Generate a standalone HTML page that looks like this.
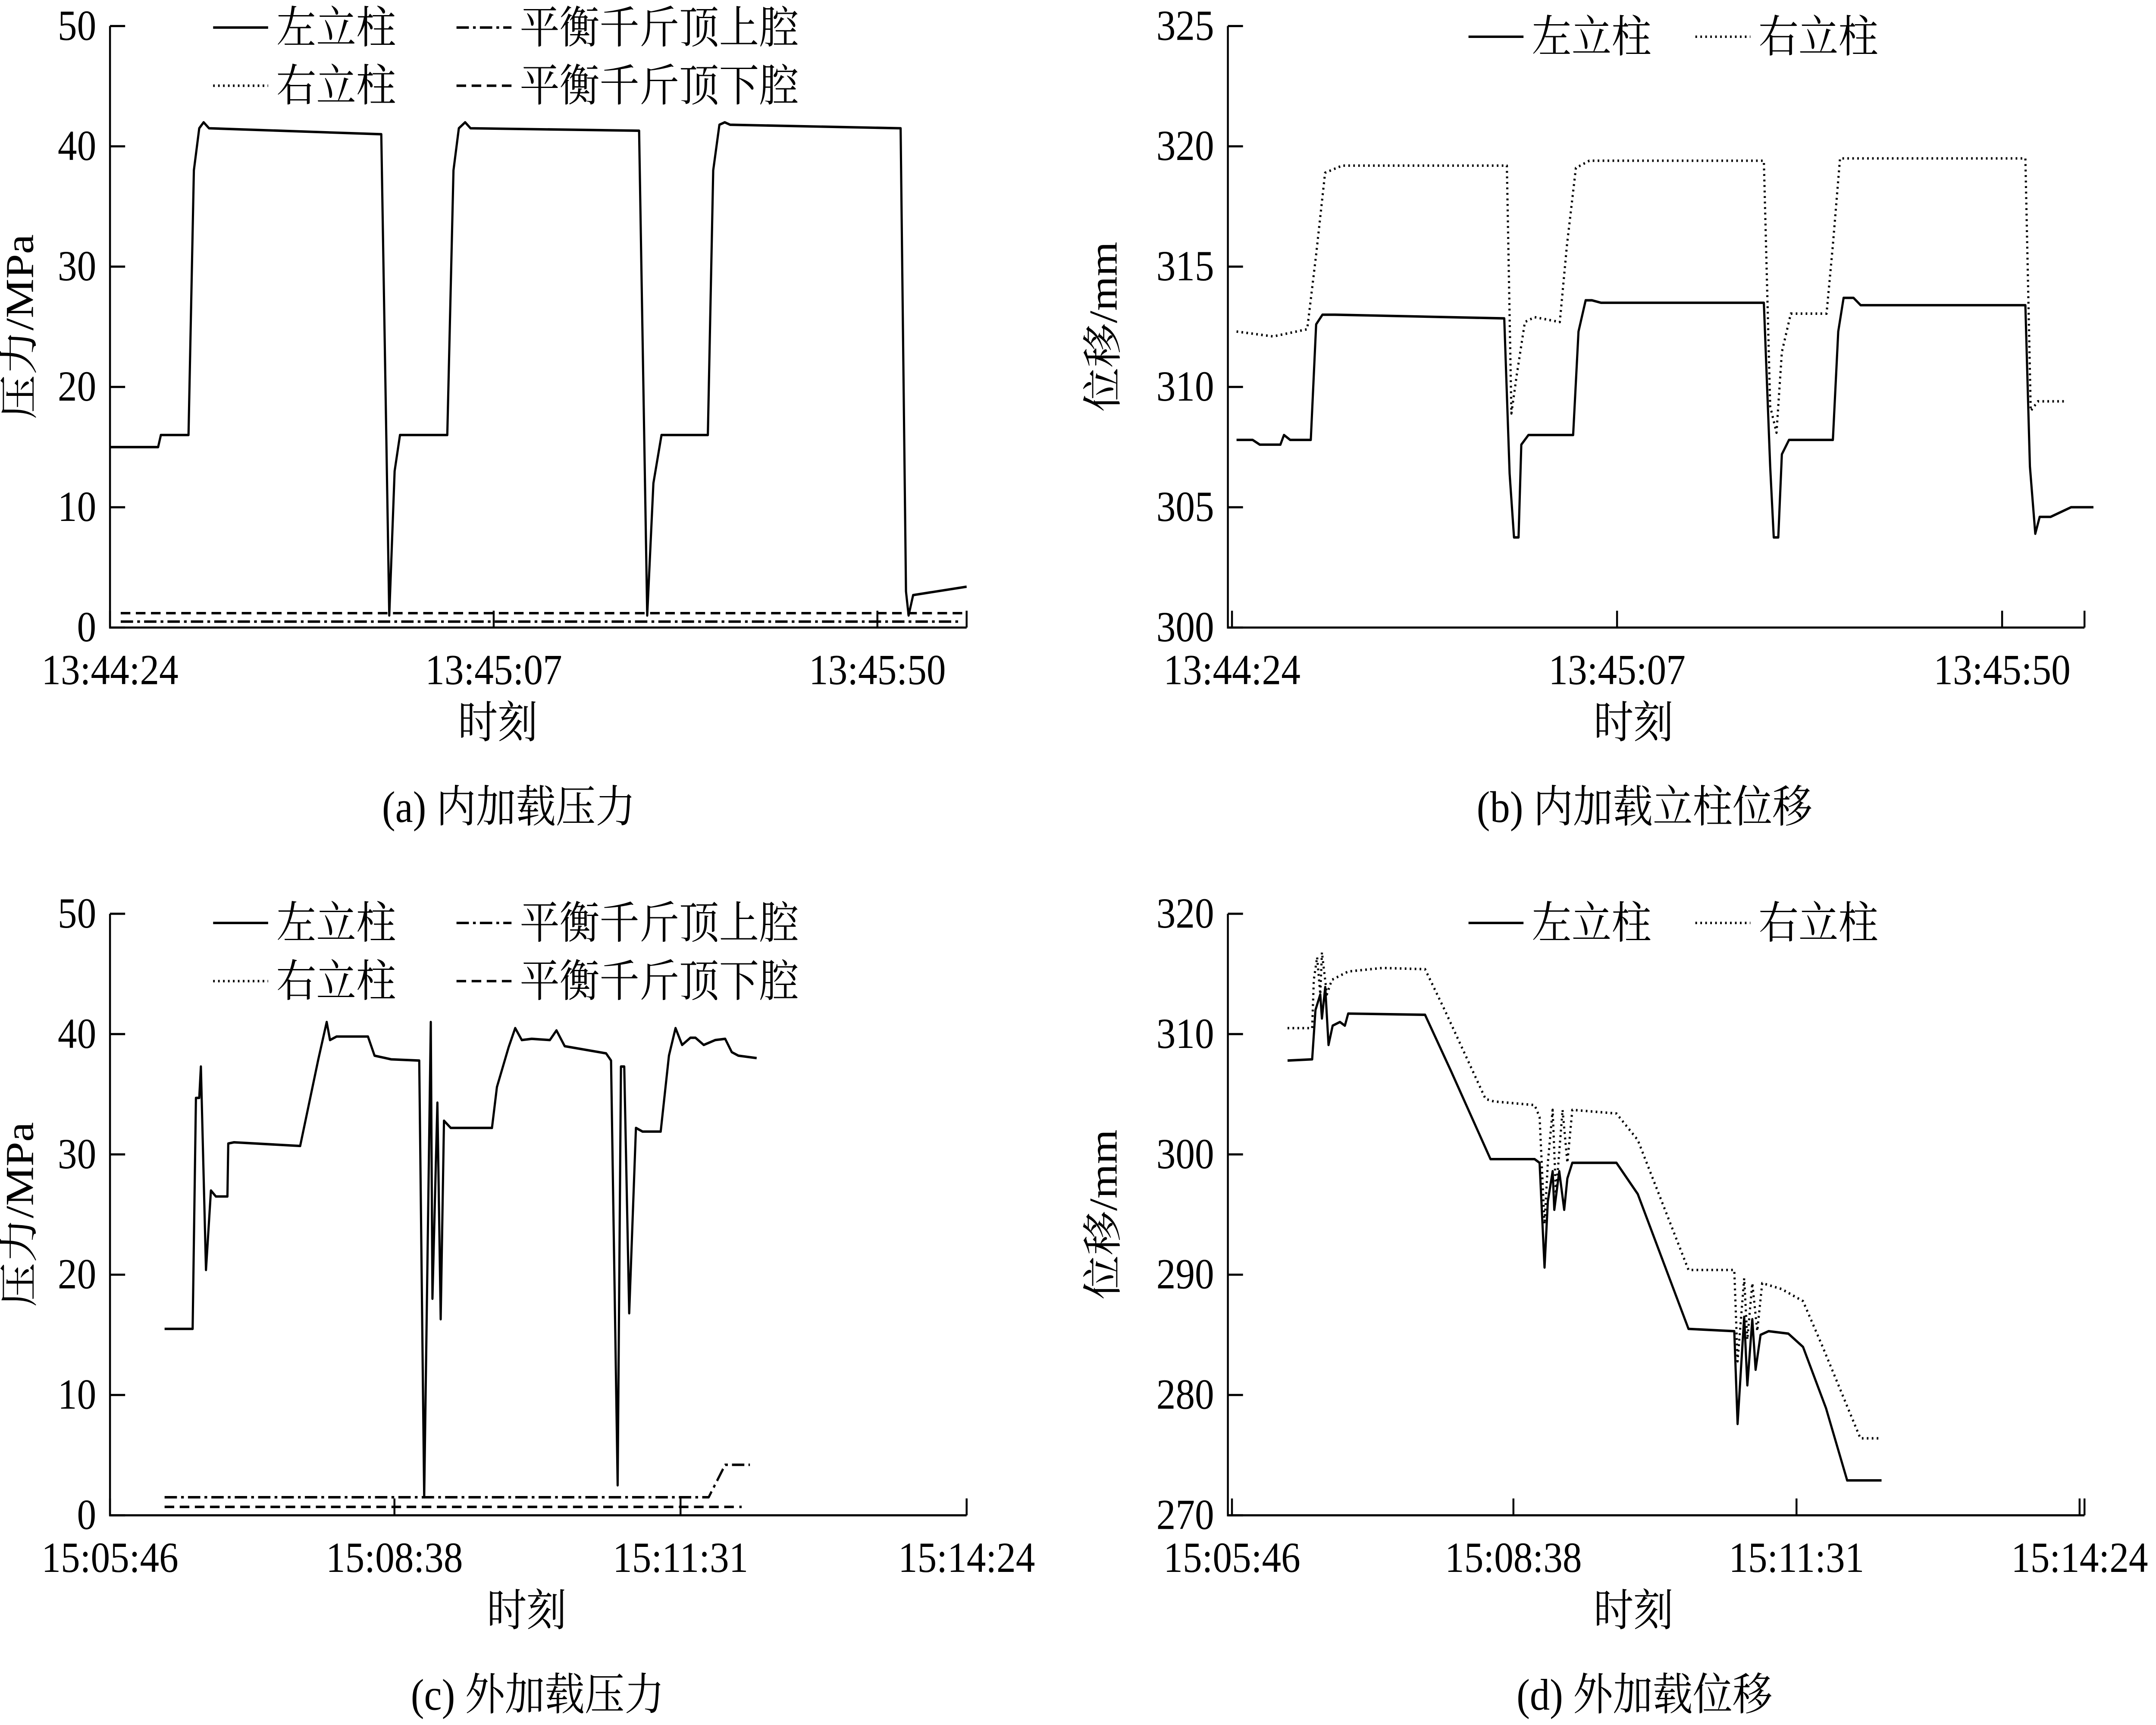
<!DOCTYPE html>
<html><head><meta charset="utf-8"><style>
html,body{margin:0;padding:0;background:#fff;overflow:hidden;width:100vw;height:100vh}
svg{display:block;width:100vw;height:100vh}
text{font-family:"Liberation Serif","Noto Serif CJK SC","Noto Sans CJK SC",serif;fill:#000}
</style></head><body>
<svg id="fig" viewBox="0 0 1568 1127" preserveAspectRatio="none" xmlns="http://www.w3.org/2000/svg"></svg>
<script>
// Panel (a) data: time (s from 13:44:24), pressure (MPa)
const aLeftT=[0,5.4,5.7,8.8,9.4,10.0,10.5,11.1,30.4,31.3,31.9,32.5,37.8,38.5,39.1,39.8,40.4,59.3,60.2,60.9,61.8,67.0,67.6,68.3,68.9,69.5,88.6,89.2,89.5,90.0,96];
const aLeftV=[15,15,16,16,38,41.5,42,41.5,41,1,13,16,16,38,41.5,42,41.5,41.3,1,12,16,16,38,41.8,42,41.8,41.5,3,1,2.7,3.4];
const aUpperT=[1.2,95.5];
const aUpperV=[0.5,0.5];
const aLowerT=[1.2,95.5];
const aLowerV=[1.2,1.2];
const aTicksX=[0,43,86];
const aTickLabels=["13:44:24","13:45:07","13:45:50"];
const aTicksY=[0,10,20,30,40,50];
// Panel (b)
const bLeftT=[0.5,2.3,3.1,5.4,5.8,6.5,8.8,9.4,10.1,11.5,30.4,31.0,31.5,32.0,32.3,33.1,38.1,38.7,39.5,40.2,41.2,59.4,60.1,60.5,61.0,61.4,62.2,67.1,67.7,68.3,69.4,70.2,88.6,89.1,89.7,90.2,91.4,93.7,96.2];
const bLeftV=[307.8,307.8,307.6,307.6,308,307.8,307.8,312.6,313,313,312.85,306.4,303.75,303.75,307.6,308,308,312.3,313.6,313.6,313.5,313.5,306.7,303.75,303.75,307.2,307.8,307.8,312.3,313.7,313.7,313.4,313.4,306.7,303.9,304.6,304.6,305,305];
const bRightT=[0.5,4.6,8.4,9.4,10.4,12.3,30.7,31.2,31.8,32.7,33.8,36.6,37.4,38.4,39.9,59.4,60.1,60.8,61.4,62.4,66.4,67.1,67.9,69.9,88.6,89.2,90.0,90.6,93.1];
const bRightV=[312.3,312.1,312.4,315.5,318.9,319.2,319.2,308.9,310.5,312.7,312.9,312.7,315.9,319.1,319.4,319.4,309.2,308.1,311.45,313.05,313.05,315.9,319.5,319.5,319.5,309.0,309.4,309.4,309.4];
const bTicksX=[0,43,86];
const bTickLabels=["13:44:24","13:45:07","13:45:50"];
const bTicksY=[300,305,310,315,320,325];
// Panel (c)
const cLeftT=[33,50,52,54,55,58,61,64,71,71.5,75,115,126,131,133,137,156,160,170,187,190,194,195,198,200,202,206,231,234,241,245,249,255,266,270,275,300,303,307,309,311,314,318,322,333,338,342,346,351,354,359,366,372,376,380,391];
const cLeftV=[15.5,15.5,34.7,34.7,37.3,20.4,27,26.5,26.5,30.9,31,30.7,37.9,41,39.5,39.8,39.8,38.2,37.9,37.8,1.5,41,18,34.3,16.3,32.8,32.2,32.2,35.6,38.9,40.5,39.5,39.6,39.5,40.3,39,38.4,37.8,2.5,37.3,37.3,16.8,32.2,31.9,31.9,38.2,40.5,39.1,39.7,39.7,39.1,39.5,39.6,38.5,38.2,38.0];
const cUpperT=[33,362,372,387];
const cUpperV=[1.5,1.5,4.2,4.2];
const cLowerT=[33,382];
const cLowerV=[0.7,0.7];
const cTicksX=[0,172,345,518];
const cTickLabels=["15:05:46","15:08:38","15:11:31","15:14:24"];
const cTicksY=[0,10,20,30,40,50];
// Panel (d)
const dLeftT=[34,49,51,54,55,57,59,61.5,66,69,71,118,134,158,185,188,191,193,196,197,200,203,205,208,235,248,279,307,309,313,315,318,320,323,328,340,349,363,376,397];
const dLeftV=[307.8,307.9,312.0,313.3,311.3,313.9,309.1,310.7,311.0,310.7,311.7,311.6,306.9,299.6,299.6,299.3,290.6,296.1,298.6,295.4,298.6,295.4,298.0,299.3,299.3,296.7,285.5,285.3,277.6,286.5,280.8,286.3,282.1,285.0,285.3,285.1,284.0,278.9,272.9,272.9];
const dRightT=[34,49,50,52,54,55,58,61,71,92,118,130,155,160,185,188,191,193,196,198,202,205,208,235,248,279,282,307,309,313,315,318,321,324,336,349,361,384,397];
const dRightV=[310.5,310.5,314.5,316.4,313.3,316.8,313.3,314.5,315.2,315.5,315.4,312.0,304.6,304.4,304.1,303.1,294.2,299.3,303.7,296.7,303.7,299.3,303.7,303.4,301.2,290.4,290.4,290.4,282.8,289.7,284.6,289.3,285.3,289.3,288.8,287.8,284.0,276.4,276.4];
const dTicksX=[0,172,345,518];
const dTickLabels=["15:05:46","15:08:38","15:11:31","15:14:24"];
const dTicksY=[270,280,290,300,310,320];

const svg=document.getElementById('fig');
const NS='http://www.w3.org/2000/svg';
function mk(tag,attrs,parent){const e=document.createElementNS(NS,tag);for(const k in attrs)e.setAttribute(k,attrs[k]);(parent||svg).appendChild(e);return e;}
const styles={solid:{},dot:{'stroke-dasharray':'1.2 2.4'},dashdot:{'stroke-dasharray':'9 3 2 3'},dash:{'stroke-dasharray':'7 4'}};

function panel(p){
  const g=mk('g',{});
  
  
  const sx=t=>p.x0+(t-p.tmin)/(p.tmax-p.tmin)*(p.x1-p.x0);
  const sy=v=>p.y1-(v-p.vmin)/(p.vmax-p.vmin)*(p.y1-p.y0);
  const ax=mk('path',{d:`M${p.x0},${p.y0}V${p.y1}H${p.x1}`,fill:'none',stroke:'#000','stroke-width':1.4},g);
  
  
  p.ty.forEach(v=>{
    mk('line',{x1:p.x0,x2:p.x0+11,y1:sy(v),y2:sy(v),stroke:'#000','stroke-width':1.4},g);
    const t=mk('text',{x:p.x0-10,y:sy(v)+9,'text-anchor':'end','font-size':28},g);
    
    
    t.textContent=v;
  });
  p.tx.forEach((v,i)=>{
    mk('line',{x1:sx(v),x2:sx(v),y1:p.y1,y2:p.y1-11,stroke:'#000','stroke-width':1.4},g);
    const t=mk('text',{x:sx(v),y:p.y1+37,'text-anchor':'middle','font-size':28},g);
    
    
    t.textContent=p.tl[i];
  });
  mk('line',{x1:p.x1,x2:p.x1,y1:p.y1,y2:p.y1-11,stroke:'#000','stroke-width':1.4},g);
  p.series.forEach(s=>{
    const d=s.t.map((t,i)=>(i?'L':'M')+sx(t).toFixed(1)+','+sy(s.v[i]).toFixed(1)).join('');
    const a=Object.assign({d:d,fill:'none',stroke:'#000','stroke-width':s.w||1.6,'stroke-linejoin':'round'},styles[s.style]);
    const el=mk('path',a,g);
    
    
  });
  const yt=mk('text',{x:0,y:0,'text-anchor':'middle','font-size':29,transform:`translate(${p.ytx},${(p.y0+p.y1)/2}) rotate(-90)`},g);
  
  
  yt.textContent=p.ytitle;
  const xt=mk('text',{x:p.xtx,y:p.y1+72,'text-anchor':'middle','font-size':29},g);
  
  
  xt.textContent='时刻';
  const cp=mk('text',{x:p.xtx+8,y:p.y1+127,'text-anchor':'middle','font-size':29},g);
  
  
  cp.textContent=p.caption;
  p.legend.forEach(L=>{
    const a=Object.assign({x1:L.x,x2:L.x+40,y1:L.y,y2:L.y,stroke:'#000','stroke-width':1.6},styles[L.style]);
    const ln=mk('line',a,g);
    
    
    const t=mk('text',{x:L.x+46,y:L.y+10,'font-size':29},g);
    
    
    t.textContent=L.label;
  });
}

panel({name:'panel-a',x0:80,x1:703,y0:17,y1:410,tmin:0,tmax:96,vmin:0,vmax:50,tx:aTicksX,tl:aTickLabels,ty:aTicksY,ytitle:'压力/MPa',ytx:24,xtx:362,caption:'(a)  内加载压力',
  series:[{t:aLeftT,v:aLeftV,style:'solid',name:'left-pillar-line'},{t:aUpperT,v:aUpperV,style:'dashdot',name:'upper-chamber-line'},{t:aLowerT,v:aLowerV,style:'dash',name:'lower-chamber-line'}],
  legend:[{x:155,y:18,style:'solid',label:'左立柱'},{x:332,y:18,style:'dashdot',label:'平衡千斤顶上腔'},{x:155,y:56,style:'dot',label:'右立柱'},{x:332,y:56,style:'dash',label:'平衡千斤顶下腔'}]});
panel({name:'panel-b',x0:893,x1:1516,y0:17,y1:410,tmin:-0.46,tmax:95.2,vmin:300,vmax:325,tx:bTicksX,tl:bTickLabels,ty:bTicksY,ytitle:'位移/mm',ytx:812,xtx:1188,caption:'(b)  内加载立柱位移',
  series:[{t:bLeftT,v:bLeftV,style:'solid',name:'left-pillar-line'},{t:bRightT,v:bRightV,style:'dot',name:'right-pillar-line'}],
  legend:[{x:1068,y:24,style:'solid',label:'左立柱'},{x:1233,y:24,style:'dot',label:'右立柱'}]});
panel({name:'panel-c',x0:80,x1:703,y0:597,y1:990,tmin:0,tmax:518,vmin:0,vmax:50,tx:cTicksX,tl:cTickLabels,ty:cTicksY,ytitle:'压力/MPa',ytx:24,xtx:383,caption:'(c)  外加载压力',
  series:[{t:cLeftT,v:cLeftV,style:'solid',name:'left-pillar-line'},{t:cUpperT,v:cUpperV,style:'dashdot',name:'upper-chamber-line'},{t:cLowerT,v:cLowerV,style:'dash',name:'lower-chamber-line'}],
  legend:[{x:155,y:603,style:'solid',label:'左立柱'},{x:332,y:603,style:'dashdot',label:'平衡千斤顶上腔'},{x:155,y:641,style:'dot',label:'右立柱'},{x:332,y:641,style:'dash',label:'平衡千斤顶下腔'}]});
panel({name:'panel-d',x0:893,x1:1516,y0:597,y1:990,tmin:-2.5,tmax:521,vmin:270,vmax:320,tx:dTicksX,tl:dTickLabels,ty:dTicksY,ytitle:'位移/mm',ytx:812,xtx:1188,caption:'(d)  外加载位移',
  series:[{t:dLeftT,v:dLeftV,style:'solid',name:'left-pillar-line'},{t:dRightT,v:dRightV,style:'dot',name:'right-pillar-line'}],
  legend:[{x:1068,y:603,style:'solid',label:'左立柱'},{x:1233,y:603,style:'dot',label:'右立柱'}]});
</script>
</body></html>
